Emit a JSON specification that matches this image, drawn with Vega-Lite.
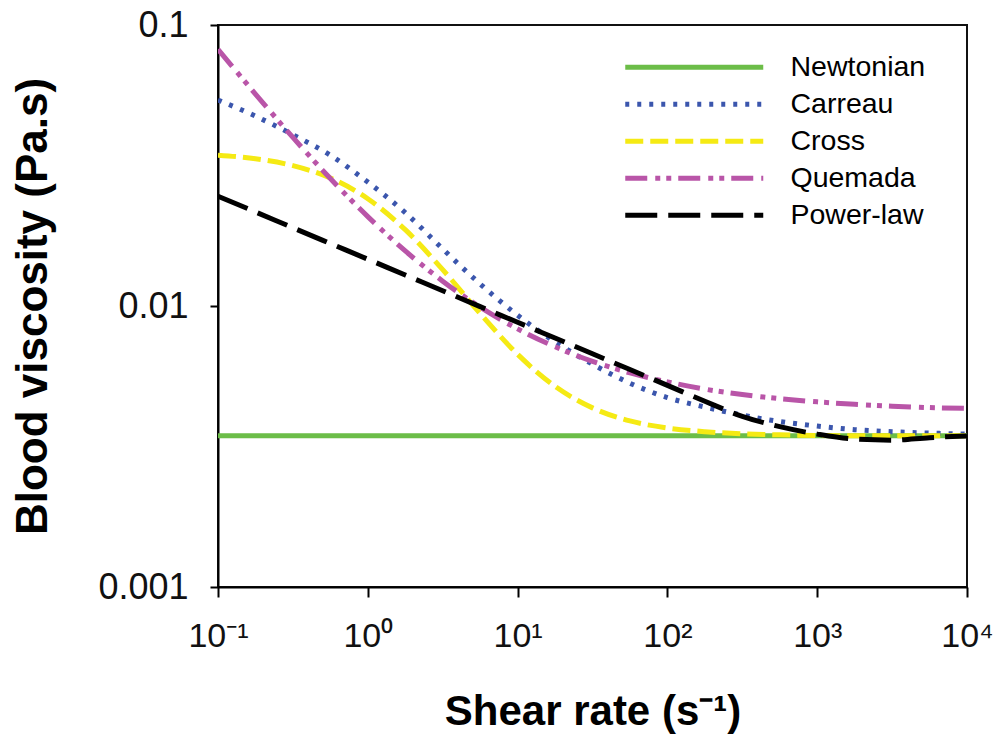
{
  "$schema": "https://vega.github.io/schema/vega-lite/v6.json",
  "autosize": {"type": "none"},
  "padding": {"left": 218, "top": 25, "right": 34, "bottom": 159},
  "width": 749,
  "height": 562,
  "background": "white",
  "config": {
    "view": {"stroke": "#111", "strokeWidth": 2},
    "font": "Liberation Sans",
    "axis": {
      "grid": false,
      "domainColor": "#000",
      "domainWidth": 2,
      "tickColor": "#000",
      "tickWidth": 2,
      "labelFont": "Liberation Sans",
      "labelColor": "#111",
      "titleFont": "Liberation Sans",
      "titleColor": "#000",
      "titleFontWeight": "bold"
    }
  },
  "data": {
    "values": [
      {"x": 0.1, "mu": 0.00345, "model": "Newtonian"},
      {"x": 10000, "mu": 0.00345, "model": "Newtonian"},

      {"x": 0.1, "mu": 0.0541, "model": "Carreau"},
      {"x": 0.1778, "mu": 0.0474, "model": "Carreau"},
      {"x": 0.3162, "mu": 0.0407, "model": "Carreau"},
      {"x": 0.5623, "mu": 0.0344, "model": "Carreau"},
      {"x": 1, "mu": 0.0276, "model": "Carreau"},
      {"x": 1.778, "mu": 0.0215, "model": "Carreau"},
      {"x": 3.162, "mu": 0.01596, "model": "Carreau"},
      {"x": 5.623, "mu": 0.01198, "model": "Carreau"},
      {"x": 10, "mu": 0.00927, "model": "Carreau"},
      {"x": 17.78, "mu": 0.00745, "model": "Carreau"},
      {"x": 31.62, "mu": 0.00621, "model": "Carreau"},
      {"x": 56.23, "mu": 0.00531, "model": "Carreau"},
      {"x": 100, "mu": 0.00472, "model": "Carreau"},
      {"x": 177.8, "mu": 0.00437, "model": "Carreau"},
      {"x": 316.2, "mu": 0.00409, "model": "Carreau"},
      {"x": 562.3, "mu": 0.00388, "model": "Carreau"},
      {"x": 1000, "mu": 0.00374, "model": "Carreau"},
      {"x": 1778, "mu": 0.00363, "model": "Carreau"},
      {"x": 3162, "mu": 0.00357, "model": "Carreau"},
      {"x": 5623, "mu": 0.00353, "model": "Carreau"},
      {"x": 10000, "mu": 0.0035, "model": "Carreau"},

      {"x": 0.1, "mu": 0.03442, "model": "Cross"},
      {"x": 0.1778, "mu": 0.03342, "model": "Cross"},
      {"x": 0.3162, "mu": 0.03159, "model": "Cross"},
      {"x": 0.5623, "mu": 0.02855, "model": "Cross"},
      {"x": 1, "mu": 0.02409, "model": "Cross"},
      {"x": 1.778, "mu": 0.01869, "model": "Cross"},
      {"x": 3.162, "mu": 0.01347, "model": "Cross"},
      {"x": 5.623, "mu": 0.0094, "model": "Cross"},
      {"x": 10, "mu": 0.00673, "model": "Cross"},
      {"x": 17.78, "mu": 0.00518, "model": "Cross"},
      {"x": 31.62, "mu": 0.00434, "model": "Cross"},
      {"x": 56.23, "mu": 0.0039, "model": "Cross"},
      {"x": 100, "mu": 0.00368, "model": "Cross"},
      {"x": 177.8, "mu": 0.00357, "model": "Cross"},
      {"x": 316.2, "mu": 0.00351, "model": "Cross"},
      {"x": 562.3, "mu": 0.00348, "model": "Cross"},
      {"x": 1000, "mu": 0.00346, "model": "Cross"},
      {"x": 1778, "mu": 0.00345, "model": "Cross"},
      {"x": 3162, "mu": 0.00345, "model": "Cross"},
      {"x": 5623, "mu": 0.00345, "model": "Cross"},
      {"x": 10000, "mu": 0.00345, "model": "Cross"},

      {"x": 0.1, "mu": 0.0819, "model": "Quemada"},
      {"x": 0.1778, "mu": 0.0568, "model": "Quemada"},
      {"x": 0.3162, "mu": 0.0398, "model": "Quemada"},
      {"x": 0.5623, "mu": 0.02841, "model": "Quemada"},
      {"x": 1, "mu": 0.0208, "model": "Quemada"},
      {"x": 1.778, "mu": 0.0157, "model": "Quemada"},
      {"x": 3.162, "mu": 0.01226, "model": "Quemada"},
      {"x": 5.623, "mu": 0.00991, "model": "Quemada"},
      {"x": 10, "mu": 0.00829, "model": "Quemada"},
      {"x": 17.78, "mu": 0.00716, "model": "Quemada"},
      {"x": 31.62, "mu": 0.00635, "model": "Quemada"},
      {"x": 56.23, "mu": 0.00578, "model": "Quemada"},
      {"x": 100, "mu": 0.00537, "model": "Quemada"},
      {"x": 177.8, "mu": 0.00506, "model": "Quemada"},
      {"x": 316.2, "mu": 0.00484, "model": "Quemada"},
      {"x": 562.3, "mu": 0.00468, "model": "Quemada"},
      {"x": 1000, "mu": 0.00456, "model": "Quemada"},
      {"x": 1778, "mu": 0.00447, "model": "Quemada"},
      {"x": 3162, "mu": 0.0044, "model": "Quemada"},
      {"x": 5623, "mu": 0.00435, "model": "Quemada"},
      {"x": 10000, "mu": 0.00432, "model": "Quemada"},

      {"x": 0.1, "mu": 0.02459, "model": "Power-law"},
      {"x": 0.1778, "mu": 0.02162, "model": "Power-law"},
      {"x": 0.3162, "mu": 0.01899, "model": "Power-law"},
      {"x": 0.5623, "mu": 0.01669, "model": "Power-law"},
      {"x": 1, "mu": 0.01467, "model": "Power-law"},
      {"x": 1.778, "mu": 0.01289, "model": "Power-law"},
      {"x": 3.162, "mu": 0.01133, "model": "Power-law"},
      {"x": 5.623, "mu": 0.00995, "model": "Power-law"},
      {"x": 10, "mu": 0.00875, "model": "Power-law"},
      {"x": 17.78, "mu": 0.00769, "model": "Power-law"},
      {"x": 31.62, "mu": 0.00676, "model": "Power-law"},
      {"x": 56.23, "mu": 0.00594, "model": "Power-law"},
      {"x": 100, "mu": 0.00522, "model": "Power-law"},
      {"x": 177.8, "mu": 0.00458, "model": "Power-law"},
      {"x": 316.2, "mu": 0.00405, "model": "Power-law"},
      {"x": 562.3, "mu": 0.00372, "model": "Power-law"},
      {"x": 1000, "mu": 0.0035, "model": "Power-law"},
      {"x": 1778, "mu": 0.00336, "model": "Power-law"},
      {"x": 3162, "mu": 0.00333, "model": "Power-law"},
      {"x": 5623, "mu": 0.0034, "model": "Power-law"},
      {"x": 10000, "mu": 0.00345, "model": "Power-law"}
    ]
  },
  "mark": {"type": "line", "strokeWidth": 5, "interpolate": "monotone", "strokeCap": "butt", "clip": true},
  "encoding": {
    "x": {
      "field": "x", "type": "quantitative",
      "scale": {"type": "log", "domain": [0.1, 10000], "nice": false},
      "axis": {
        "values": [0.1, 1, 10, 100, 1000, 10000],
        "labelExpr": "['10⁻¹','10⁰','10¹','10²','10³','10⁴'][round(log(datum.value)/LN10)+1]",
        "labelFontSize": 34,
        "labelPadding": 22,
        "tickSize": 10,
        "labelFlush": false,
        "labelOverlap": false,
        "title": "Shear rate (s⁻¹)",
        "titleFontSize": 42,
        "titlePadding": 38
      }
    },
    "y": {
      "field": "mu", "type": "quantitative",
      "scale": {"type": "log", "domain": [0.001, 0.1], "nice": false},
      "axis": {
        "values": [0.001, 0.01, 0.1],
        "format": "~g",
        "labelFontSize": 36,
        "labelPadding": 22,
        "tickSize": 8,
        "labelFlush": false,
        "labelOverlap": false,
        "title": "Blood viscosity (Pa.s)",
        "titleFontSize": 44,
        "titlePadding": 42
      }
    },
    "color": {
      "field": "model", "type": "nominal",
      "scale": {
        "domain": ["Newtonian", "Carreau", "Cross", "Quemada", "Power-law"],
        "range": ["#6cbd48", "#3b56ad", "#f5ea14", "#b955a8", "#000000"]
      },
      "legend": {
        "title": null,
        "orient": "none",
        "legendX": 462,
        "legendY": 28,
        "padding": 0,
        "symbolType": "M-6,0H6",
        "symbolSize": 529,
        "symbolStrokeWidth": 5,
        "labelFontSize": 28.5,
        "labelFont": "Liberation Sans",
        "labelColor": "#000",
        "labelOffset": 82,
        "rowPadding": 8
      }
    },
    "strokeDash": {
      "field": "model", "type": "nominal",
      "scale": {
        "domain": ["Newtonian", "Carreau", "Cross", "Quemada", "Power-law"],
        "range": [[1, 0], [4, 8], [18, 7], [22, 8, 5, 6, 5, 7], [32, 11]]
      },
      "legend": null
    }
  }
}
